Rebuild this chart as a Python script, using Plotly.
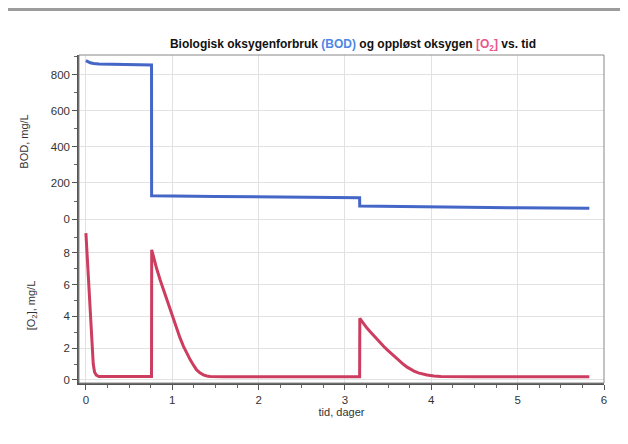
import plotly.graph_objects as go
from plotly.subplots import make_subplots

# --- data ---
t_bod = [0, 0.02, 0.05, 0.09, 0.15, 0.76, 0.761, 1.5, 2.5, 3.17, 3.171, 4.0, 5.0, 5.83]
bod = [880, 874, 868, 864, 861, 855, 129, 125, 121, 118, 72, 66, 62, 60]

t_o2 = [0, 0.03, 0.06, 0.085, 0.10, 0.12, 0.15, 0.76, 0.762, 0.79, 0.82, 0.86, 0.90,
        0.94, 0.97, 1.01, 1.05, 1.09, 1.13, 1.17, 1.21, 1.25, 1.28, 1.32, 1.36, 1.40,
        1.44, 1.6, 3.17, 3.172, 3.21, 3.25, 3.29, 3.33, 3.37, 3.41, 3.45, 3.49, 3.53,
        3.57, 3.60, 3.64, 3.68, 3.72, 3.76, 3.80, 3.85, 3.90, 3.95, 4.03, 4.11, 4.5, 5.83]
o2 = [9.25, 6.2, 3.2, 1.0, 0.5, 0.3, 0.22, 0.22, 8.2, 7.6, 7.0, 6.3, 5.65,
      5.0, 4.5, 3.85, 3.2, 2.65, 2.12, 1.65, 1.25, 0.9, 0.65, 0.45, 0.32, 0.25,
      0.22, 0.2, 0.2, 3.88, 3.58, 3.3, 3.05, 2.8, 2.56, 2.33, 2.11, 1.9, 1.69,
      1.49, 1.33, 1.14, 0.97, 0.81, 0.67, 0.56, 0.45, 0.37, 0.31, 0.25, 0.22, 0.21, 0.21]

x_ticks = [0, 1, 2, 3, 4, 5, 6]
bod_ticks = [0, 200, 400, 600, 800]
o2_ticks = [0, 2, 4, 6, 8]

title_html = ("<b>Biologisk oksygenforbruk <span style='color:#4f86e3'>(BOD)</span> "
              "og oppløst oksygen <span style='color:#e8558c'>[O<sub>2</sub>]</span> vs. tid</b>")

BLUE = "#4466c6"
RED = "#cc3d60"
FONT = "Liberation Sans"

fig = make_subplots(rows=2, cols=1, shared_xaxes=True, vertical_spacing=0)
fig.add_trace(go.Scatter(x=t_bod, y=bod, mode="lines",
                         line=dict(color=BLUE, width=3), showlegend=False), row=1, col=1)
fig.add_trace(go.Scatter(x=t_o2, y=o2, mode="lines",
                         line=dict(color=RED, width=3), showlegend=False), row=2, col=1)

split = (383 - 228) / 328.0
W, H = 628, 444
OFF = 8  # page body margin
ml, mr, mt, mb = 79 - OFF, 24 + OFF, 55 - OFF, 61 + OFF
pw, ph = W - ml - mr, H - mt - mb

grid = "#e2e2e2"
tickfont = dict(family=FONT, size=11.5, color="#333")
tfont = dict(family=FONT, size=11, color="#333")

fig.update_layout(
    width=W, height=H,
    margin=dict(l=ml, r=mr, t=mt, b=mb, autoexpand=False),
    paper_bgcolor="white", plot_bgcolor="white",
    font=dict(family=FONT, color="#222"),
    title=dict(text=title_html, x=(353 - OFF) / W, xanchor="center", y=1 - (44 - OFF) / H,
               yanchor="middle", font=dict(family=FONT, size=12, color="#111")),
    xaxis=dict(domain=[0, 1], range=[-0.08, 6.0], showgrid=True, gridcolor=grid,
               tickvals=x_ticks, showticklabels=False, ticks="", showline=False, zeroline=False,
               automargin=False),
    xaxis2=dict(domain=[0, 1], range=[-0.08, 6.0], showgrid=True, gridcolor=grid,
                tickvals=x_ticks, ticktext=[str(v) for v in x_ticks], ticks="outside",
                ticklen=5, tickcolor="#555", tickfont=tickfont, automargin=False,
                minor=dict(dtick=0.25, ticks="outside", ticklen=3, tickcolor="#666", showgrid=False),
                showline=True, linecolor="#555", linewidth=1.5, zeroline=False,
                title=dict(text="tid, dager", font=tfont, standoff=4)),
    yaxis=dict(domain=[split, 1], range=[-50, 911], tickvals=bod_ticks, automargin=False,
               showgrid=True, gridcolor=grid, zeroline=False, ticks="outside", ticklen=5,
               tickcolor="#555", tickfont=tickfont,
               minor=dict(dtick=100, ticks="outside", ticklen=3, tickcolor="#666", showgrid=False),
               showline=True, linecolor="#555", linewidth=1.5,
               title=dict(text="BOD, mg/L", font=tfont, standoff=20)),
    yaxis2=dict(domain=[0, split], range=[-0.19, 9.57], tickvals=o2_ticks, automargin=False,
                showgrid=True, gridcolor=grid, zeroline=False, ticks="outside", ticklen=5,
                tickcolor="#555", tickfont=tickfont,
                minor=dict(dtick=1, ticks="outside", ticklen=3, tickcolor="#666", showgrid=False),
                showline=True, linecolor="#555", linewidth=1.5,
                title=dict(text="[O<sub>2</sub>], mg/L", font=tfont, standoff=26)),
    shapes=[
        dict(type="rect", xref="paper", yref="paper", x0=0, x1=1, y0=0, y1=1,
             line=dict(color="#888", width=1), fillcolor="rgba(0,0,0,0)", layer="above"),
        dict(type="rect", xref="paper", yref="paper",
             x0=-ml / pw - 0.01, x1=(W - ml) / pw + 0.01,
             y0=(H - mb - 3) / ph, y1=(H - mb + 1) / ph,
             line=dict(width=0), fillcolor="#9c9c9c"),
    ],
)

fig.write_html("out.html")
